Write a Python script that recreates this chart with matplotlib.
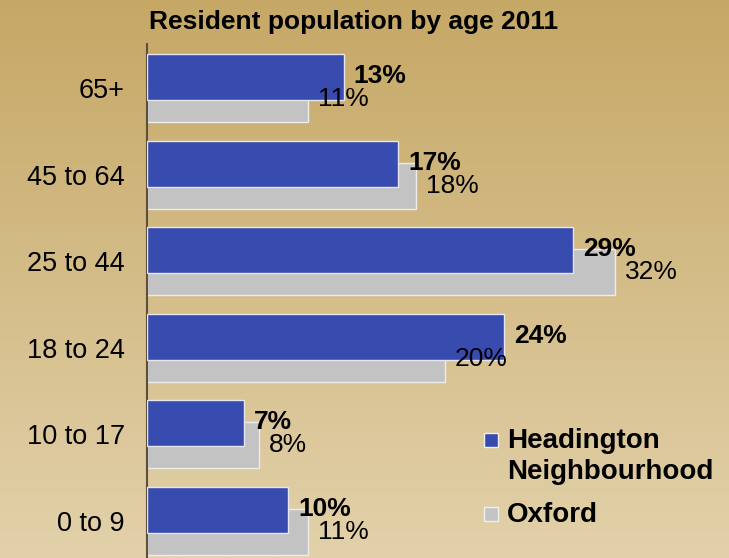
import numpy as np
import matplotlib
matplotlib.use('Agg')
import matplotlib.pyplot as plt
from matplotlib.patches import Rectangle

plt.rcParams['font.family'] = ['Liberation Sans', 'DejaVu Sans']

ages = ['0 to 9', '10 to 17', '18 to 24', '25 to 44', '45 to 64', '65+']
headington = [9.6, 6.6, 24.3, 29.0, 17.1, 13.4]
oxford = [11.0, 7.6, 20.3, 31.9, 18.3, 11.0]

blue = '#384caf'
grey = '#c3c3c3'

fig = plt.figure(figsize=(7.29, 5.58), dpi=100)

# background gradient
bg = fig.add_axes([0, 0, 1, 1], zorder=-1)
top = np.array([198, 168, 102]) / 255
bot = np.array([226, 209, 170]) / 255
t = np.linspace(0, 1, 256)[:, None]
grad = (top * (1 - t) + bot * t)[:, None, :]
bg.imshow(grad, aspect='auto', extent=[0, 1, 0, 1])
bg.axis('off')

ax = fig.add_axes([147 / 729, 0, 1 - 147 / 729, 1 - 44 / 558])
ax.set_facecolor('none')

y = np.arange(len(ages))
h = 0.53
off = 0.127
ax.barh(y - off, oxford, height=h, color=grey, edgecolor='#ececec', linewidth=1, zorder=2)
ax.barh(y + off, headington, height=h, color=blue, edgecolor='#e6e6ee', linewidth=1, zorder=3)

for i in range(len(ages)):
    ax.text(headington[i] + 0.68, y[i] + off + 0.01, '%.0f%%' % headington[i],
            fontsize=19, fontweight='bold', va='center', ha='left', zorder=5)
    ax.text(oxford[i] + 0.68, y[i] - off, '%.0f%%' % oxford[i],
            fontsize=19, va='center', ha='left', zorder=5)

ax.set_xlim(0, 39.65)
ax.set_ylim(-0.43, 5.51)
ax.set_yticks(y)
ax.set_yticklabels(ages, fontsize=19.5)
ax.tick_params(axis='y', length=0, pad=16)
ax.set_xticks([])
for s in ['top', 'right', 'bottom']:
    ax.spines[s].set_visible(False)
ax.spines['left'].set_color('#5e5038')
ax.spines['left'].set_linewidth(1.5)

fig.text(354 / 729, 1 - 22 / 558, 'Resident population by age 2011',
         fontsize=19, fontweight='bold', ha='center', va='center')

# legend drawn by hand
fig.patches.append(Rectangle((484 / 729, 1 - 447 / 558), 14 / 729, 14 / 558,
                             transform=fig.transFigure, facecolor=blue,
                             edgecolor='#f0f0f0', linewidth=1))
fig.patches.append(Rectangle((484 / 729, 1 - 521 / 558), 14 / 729, 14 / 558,
                             transform=fig.transFigure, facecolor=grey,
                             edgecolor='#f0f0f0', linewidth=1))
fig.text(507 / 729, 1 - 441 / 558, 'Headington', fontsize=20, fontweight='bold',
         va='center', ha='left')
fig.text(507 / 729, 1 - 472 / 558, 'Neighbourhood', fontsize=20, fontweight='bold',
         va='center', ha='left')
fig.text(507 / 729, 1 - 515 / 558, 'Oxford', fontsize=20, fontweight='bold',
         va='center', ha='left')

fig.savefig('out.png', dpi=100)
